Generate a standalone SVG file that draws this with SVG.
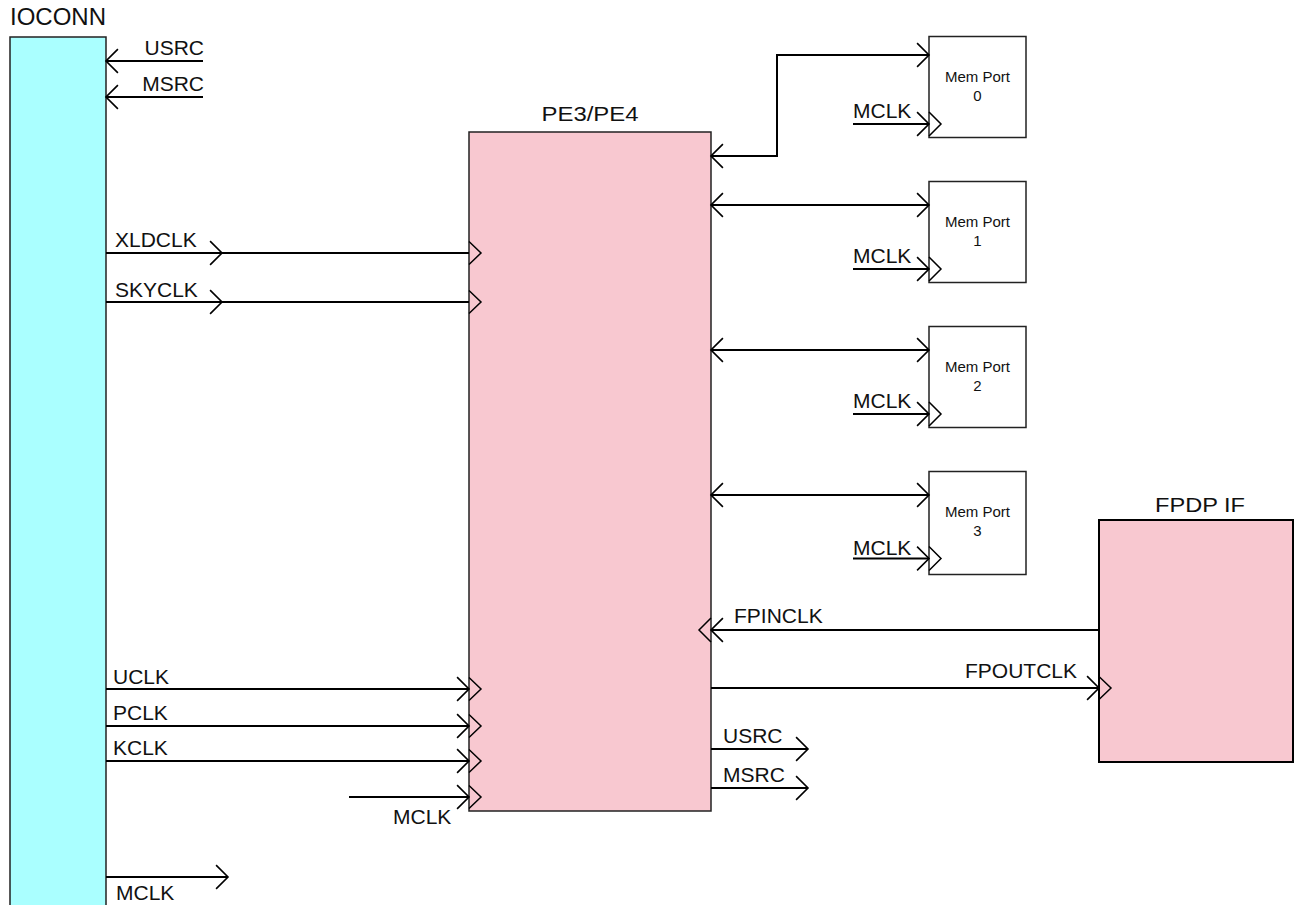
<svg xmlns="http://www.w3.org/2000/svg" width="1297" height="905" viewBox="0 0 1297 905">
<style>
text{font-family:"Liberation Sans",Arial,sans-serif;fill:#111}
.lbl{font-size:21px}
.title{font-size:24px}
.mp{font-size:15px;text-anchor:middle}
.wire{fill:none;stroke:#000;stroke-width:2}
.clk{fill:none;stroke:#000;stroke-width:1.5}
.box{stroke:#222;stroke-width:1.5}
</style>
<defs>
<marker id="arr" markerUnits="userSpaceOnUse" markerWidth="16" markerHeight="26" refX="12" refY="12" orient="auto-start-reverse" viewBox="0 0 14 24" overflow="visible">
<path d="M1,1 L12,12 L1,23" fill="none" stroke="#000" stroke-width="1.5"/>
</marker>
</defs>

<g id="ioconn">
<rect class="box" x="10" y="37" width="96" height="880" fill="#AAFFFF"/>
<text class="title" x="10" y="25">IOCONN</text>
</g>

<g id="pe">
<rect class="box" x="469" y="132" width="242" height="679" fill="#F8C8D0"/>
<text x="590" y="121" font-size="21" text-anchor="middle" textLength="97" lengthAdjust="spacingAndGlyphs">PE3/PE4</text>
<polyline class="clk" points="469,241.5 481,253 469,264.5"/>
<polyline class="clk" points="469,290.5 481,302 469,313.5"/>
<polyline class="clk" points="469,677.5 481,689 469,700.5"/>
<polyline class="clk" points="469,714.5 481,726 469,737.5"/>
<polyline class="clk" points="469,749.5 481,761 469,772.5"/>
<polyline class="clk" points="469,785.5 481,797 469,808.5"/>
<polyline class="clk" points="711,618 699,630 711,642"/>
</g>

<g id="memport0">
<rect class="box" x="929" y="36.5" width="97" height="101" fill="#fff"/>
<text class="mp" x="977.5" y="82">Mem Port</text>
<text class="mp" x="977.5" y="101">0</text>
<polyline class="clk" points="929,112 941,124 929,136"/>
</g>
<g id="memport1">
<rect class="box" x="929" y="181.5" width="97" height="101" fill="#fff"/>
<text class="mp" x="977.5" y="227">Mem Port</text>
<text class="mp" x="977.5" y="246">1</text>
<polyline class="clk" points="929,257 941,269 929,281"/>
</g>
<g id="memport2">
<rect class="box" x="929" y="326.5" width="97" height="101" fill="#fff"/>
<text class="mp" x="977.5" y="372">Mem Port</text>
<text class="mp" x="977.5" y="391">2</text>
<polyline class="clk" points="929,402 941,414 929,426"/>
</g>
<g id="memport3">
<rect class="box" x="929" y="471.5" width="97" height="103" fill="#fff"/>
<text class="mp" x="977.5" y="517">Mem Port</text>
<text class="mp" x="977.5" y="536">3</text>
<polyline class="clk" points="929,546.5 941,558.5 929,570.5"/>
</g>

<g id="fpdp">
<rect x="1099" y="520" width="194" height="242" fill="#F8C8D0" stroke="#000" stroke-width="2"/>
<text x="1200" y="512" font-size="21" text-anchor="middle" textLength="90" lengthAdjust="spacingAndGlyphs">FPDP IF</text>
<polyline class="clk" points="1099,676.5 1111,688 1099,699.5"/>
</g>

<g id="connectors">
<path class="wire" d="M203,61 H106" marker-end="url(#arr)"/>
<text class="lbl" x="204" y="55" text-anchor="end">USRC</text>
<path class="wire" d="M203,97 H106" marker-end="url(#arr)"/>
<text class="lbl" x="204" y="91" text-anchor="end">MSRC</text>

<path class="wire" d="M106,253 H222" marker-end="url(#arr)"/>
<path class="wire" d="M222,253 H469"/>
<text class="lbl" x="115" y="247">XLDCLK</text>
<path class="wire" d="M106,302 H222" marker-end="url(#arr)"/>
<path class="wire" d="M222,302 H469"/>
<text class="lbl" x="115" y="297">SKYCLK</text>

<path class="wire" d="M106,689 H469" marker-end="url(#arr)"/>
<text class="lbl" x="113" y="684">UCLK</text>
<path class="wire" d="M106,726 H469" marker-end="url(#arr)"/>
<text class="lbl" x="113" y="720">PCLK</text>
<path class="wire" d="M106,761 H469" stroke-width="2.8" marker-end="url(#arr)"/>
<text class="lbl" x="113" y="755">KCLK</text>
<path class="wire" d="M349,797 H469" marker-end="url(#arr)"/>
<text class="lbl" x="393" y="824">MCLK</text>

<path class="wire" d="M106,877 H228" marker-end="url(#arr)"/>
<text class="lbl" x="116" y="900">MCLK</text>

<path class="wire" d="M711,156 H777 V55 H929" marker-start="url(#arr)" marker-end="url(#arr)"/>
<path class="wire" d="M711,205 H929" marker-start="url(#arr)" marker-end="url(#arr)"/>
<path class="wire" d="M711,350 H929" marker-start="url(#arr)" marker-end="url(#arr)"/>
<path class="wire" d="M711,495 H929" marker-start="url(#arr)" marker-end="url(#arr)"/>

<path class="wire" d="M853,124 H929" marker-end="url(#arr)"/>
<text class="lbl" x="853" y="118">MCLK</text>
<path class="wire" d="M853,269 H929" marker-end="url(#arr)"/>
<text class="lbl" x="853" y="263">MCLK</text>
<path class="wire" d="M853,414 H929" marker-end="url(#arr)"/>
<text class="lbl" x="853" y="408">MCLK</text>
<path class="wire" d="M853,558.5 H929" marker-end="url(#arr)"/>
<text class="lbl" x="853" y="555">MCLK</text>

<path class="wire" d="M1099,630 H711" marker-end="url(#arr)"/>
<text class="lbl" x="734" y="623">FPINCLK</text>
<path class="wire" d="M711,688 H1099" marker-end="url(#arr)"/>
<text class="lbl" x="1077" y="678" text-anchor="end">FPOUTCLK</text>

<path class="wire" d="M711,749 H808" marker-end="url(#arr)"/>
<text class="lbl" x="723" y="743">USRC</text>
<path class="wire" d="M711,788 H808" marker-end="url(#arr)"/>
<text class="lbl" x="723" y="782">MSRC</text>
</g>
</svg>
